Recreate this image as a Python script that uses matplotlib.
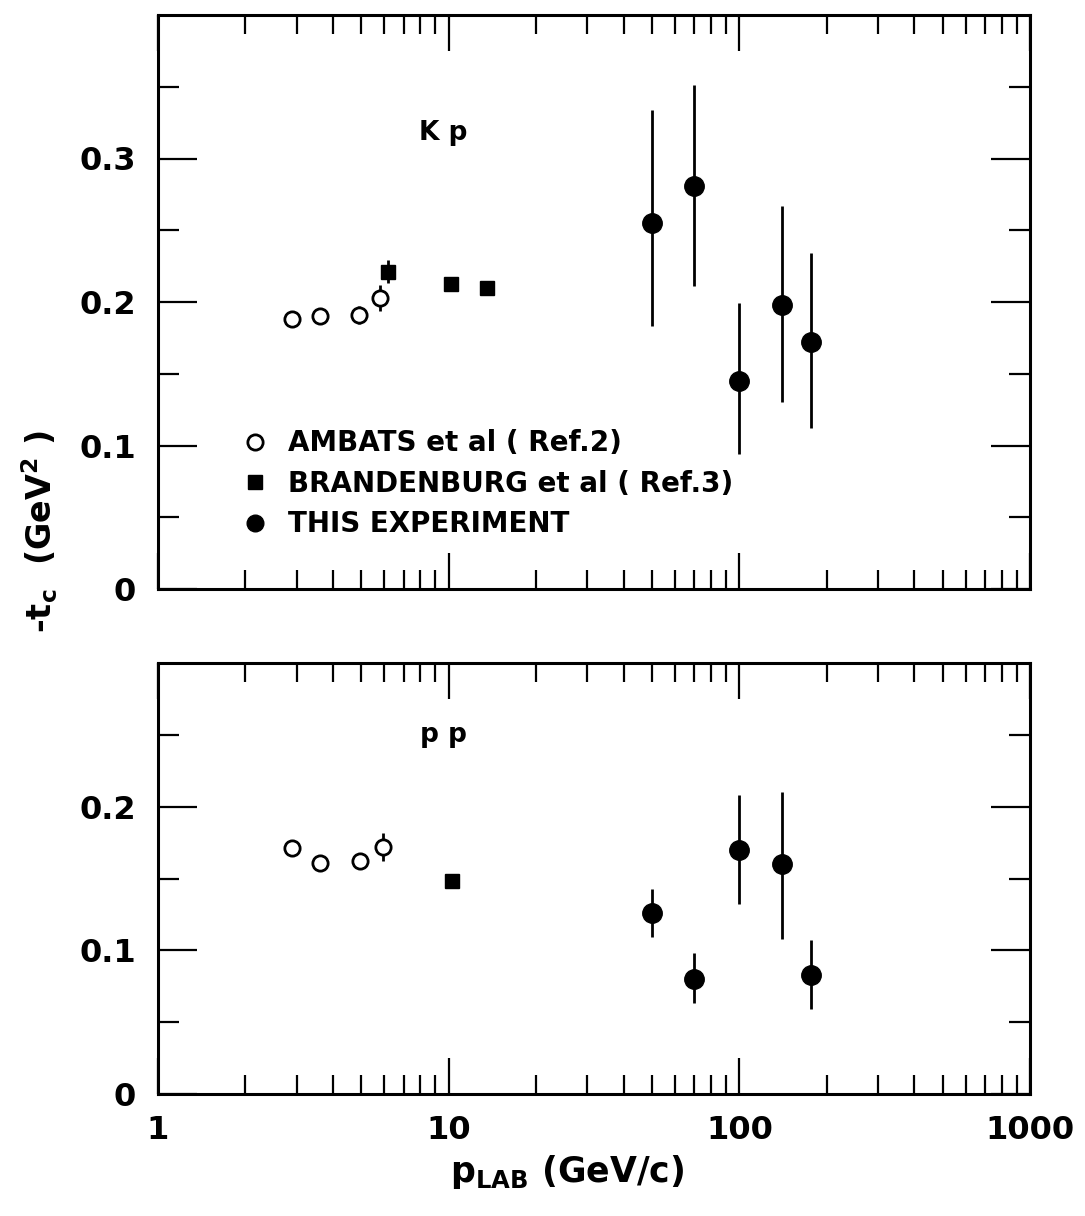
import numpy as np
import matplotlib
matplotlib.use("Agg")
import matplotlib.pyplot as plt
from matplotlib.lines import Line2D
from matplotlib.ticker import FixedLocator, FuncFormatter, NullFormatter

plt.rcParams['font.family'] = ['DejaVu Sans']
plt.rcParams['font.weight'] = 'bold'
plt.rcParams['mathtext.fontset'] = 'dejavusans'
plt.rcParams['mathtext.default'] = 'bf'

# Kp panel
ambats_p_kp = [2.9, 3.6, 4.9, 5.8]
ambats_kp = [0.188, 0.190, 0.191, 0.203]
ambats_kp_err = [0.0, 0.0, 0.006, 0.009]
brand_p_kp = [6.2, 10.2, 13.6]
brand_kp = [0.221, 0.2125, 0.210]
brand_kp_err = [0.008, 0.0, 0.0]
this_p = [50, 70, 100, 140, 177]
this_kp = [0.255, 0.281, 0.145, 0.198, 0.172]
this_kp_lo = [0.072, 0.070, 0.051, 0.068, 0.060]
this_kp_hi = [0.079, 0.070, 0.054, 0.069, 0.062]

# pp panel
ambats_p_pp = [2.9, 3.6, 4.95, 5.95]
ambats_pp = [0.171, 0.161, 0.162, 0.172]
ambats_pp_err = [0.0, 0.0, 0.0, 0.010]
brand_p_pp = [10.3]
brand_pp = [0.148]
this_pp = [0.126, 0.080, 0.170, 0.160, 0.083]
this_pp_lo = [0.017, 0.017, 0.038, 0.052, 0.024]
this_pp_hi = [0.017, 0.018, 0.038, 0.050, 0.024]

xticks = [1, 10, 100, 1000]
xlabels = ['1', '10', '100', '1000']

fig = plt.figure(figsize=(10.85, 12.16), dpi=100)
W, H = 1085, 1216
ax1 = fig.add_axes([158 / W, (H - 589) / H, 872 / W, 574 / H])
ax2 = fig.add_axes([158 / W, (H - 1094) / H, 872 / W, 431 / H])

lw = 2.0
for ax in (ax1, ax2):
    ax.set_xscale('log')
    ax.set_xlim(1, 1000)
    ax.xaxis.set_major_locator(FixedLocator(xticks))
    minors = [m * d for d in (1, 10, 100) for m in range(2, 10)]
    ax.xaxis.set_minor_locator(FixedLocator(minors))
    ax.xaxis.set_minor_formatter(NullFormatter())
    for s in ax.spines.values():
        s.set_linewidth(2.2)
    ax.tick_params(axis='x', which='major', direction='in', length=26, width=1.6,
                   top=True, bottom=True, labelsize=23, pad=15)
    ax.tick_params(axis='x', which='minor', direction='in', length=14, width=1.6,
                   top=True, bottom=True)
    ax.tick_params(axis='y', which='major', direction='in', length=28, width=1.6,
                   left=True, right=True, labelsize=23, pad=16)
    ax.tick_params(axis='y', which='minor', direction='in', length=15, width=1.6,
                   left=True, right=True)
    ax.yaxis.set_major_formatter(FuncFormatter(lambda v, p: '0' if v == 0 else f'{v:.1f}'))

ax1.set_ylim(0, 0.4)
ax1.yaxis.set_major_locator(FixedLocator([0, 0.1, 0.2, 0.3]))
ax1.yaxis.set_minor_locator(FixedLocator([0.05, 0.15, 0.25, 0.35]))
ax1.xaxis.set_major_formatter(NullFormatter())

ax2.set_ylim(0, 0.3)
ax2.yaxis.set_major_locator(FixedLocator([0, 0.1, 0.2]))
ax2.yaxis.set_minor_locator(FixedLocator([0.05, 0.15, 0.25]))
ax2.xaxis.set_major_formatter(FuncFormatter(lambda v, p: xlabels[xticks.index(int(round(v)))] if int(round(v)) in xticks else ''))

# Kp data
ax1.errorbar(ambats_p_kp, ambats_kp, yerr=ambats_kp_err, fmt='o', mfc='white', mec='black',
             mew=2.0, ms=11, ecolor='black', elinewidth=lw, capsize=0)
ax1.errorbar(brand_p_kp, brand_kp, yerr=brand_kp_err, fmt='s', color='black', ms=10,
             elinewidth=lw, capsize=0)
ax1.errorbar(this_p, this_kp, yerr=[this_kp_lo, this_kp_hi], fmt='o', color='black', ms=14,
             elinewidth=lw, capsize=0)
ax1.text(0.327, 0.795, 'K p', transform=ax1.transAxes, ha='center', va='center', fontsize=19)

# pp data
ax2.errorbar(ambats_p_pp, ambats_pp, yerr=ambats_pp_err, fmt='o', mfc='white', mec='black',
             mew=2.0, ms=11, ecolor='black', elinewidth=lw, capsize=0)
ax2.errorbar(brand_p_pp, brand_pp, fmt='s', color='black', ms=10)
ax2.errorbar(this_p, this_pp, yerr=[this_pp_lo, this_pp_hi], fmt='o', color='black', ms=14,
             elinewidth=lw, capsize=0)
ax2.text(0.327, 0.833, 'p p', transform=ax2.transAxes, ha='center', va='center', fontsize=19)

handles = [
    Line2D([], [], ls='none', marker='o', mfc='white', mec='black', mew=2.0, ms=11),
    Line2D([], [], ls='none', marker='s', color='black', ms=10),
    Line2D([], [], ls='none', marker='o', color='black', ms=12),
]
labels = ['AMBATS et al ( Ref.2)', 'BRANDENBURG et al ( Ref.3)', 'THIS EXPERIMENT']
ax1.legend(handles, labels, loc='center left', bbox_to_anchor=(0.097, 0.183),
           frameon=False, fontsize=20, handlelength=0.9, handletextpad=0.75,
           labelspacing=0.45, borderpad=0, borderaxespad=0)

fig.text(40 / W, 1 - 532 / H, r'-t$_\mathregular{c}$  (GeV$^\mathregular{2}$ )', rotation=90,
         ha='center', va='center', fontsize=24)
fig.text(567 / W, 1 - 1172 / H, r'p$_\mathregular{LAB}$ (GeV/c)', ha='center', va='center',
         fontsize=25)

fig.savefig('out.png', dpi=100)
